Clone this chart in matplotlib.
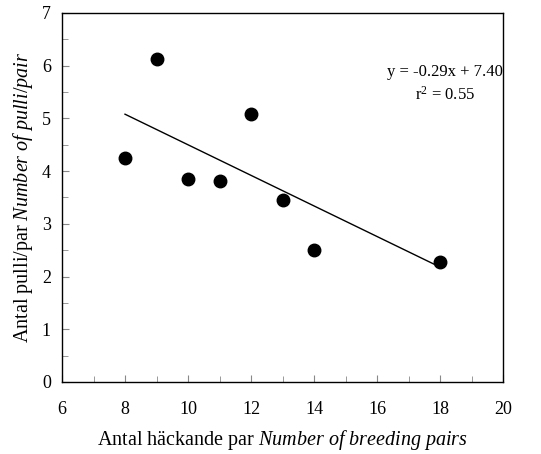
import matplotlib as mpl

mpl.use('Agg')
import matplotlib.pyplot as plt
from matplotlib.ticker import MultipleLocator
import numpy as np

plt.rcParams['font.family'] = ['Liberation Serif', 'DejaVu Serif']
plt.rcParams['mathtext.fontset'] = 'custom'
plt.rcParams['mathtext.rm'] = 'Liberation Serif'
plt.rcParams['mathtext.it'] = 'Liberation Serif:style=italic'

# breeding pairs vs pulli per pair
pairs = [8, 9, 10, 11, 12, 13, 14, 18]
pulli = [4.25, 6.12, 3.85, 3.82, 5.08, 3.46, 2.50, 2.28]

slope = -0.29
intercept = 7.40
fit_x = np.array([min(pairs), max(pairs)])

fig = plt.figure(figsize=(5.41, 4.54), dpi=100)
ax = fig.add_axes([0.1146, 0.1586, 0.8152, 0.8128])

ax.plot(fit_x, slope * fit_x + intercept, color='black', linewidth=1)
ax.plot(pairs, pulli, 'o', color='black', markersize=9)

ax.set_xlim(6, 20)
ax.set_ylim(0, 7)
ax.xaxis.set_major_locator(MultipleLocator(2))
ax.xaxis.set_minor_locator(MultipleLocator(1))
ax.yaxis.set_major_locator(MultipleLocator(1))
ax.yaxis.set_minor_locator(MultipleLocator(0.5))
ax.tick_params(which='both', direction='in', color='#888888', labelsize=13)
ax.tick_params(which='major', length=5)
ax.tick_params(which='minor', length=4)
ax.tick_params(axis='x', pad=14)
ax.tick_params(axis='y', pad=8)
for s in ax.spines.values():
    s.set_linewidth(1)

ax.text(18.16, 5.88, "y = -0.29x + 7.40", ha='center', va='center', fontsize=12)
ax.text(18.16, 5.44, r"r$^2$ = 0.55", ha='center', va='center', fontsize=12)

ax.set_xlabel(r"Antal häckande par $\mathit{Number\ of\ breeding\ pairs}$",
              fontsize=14.5, labelpad=7)
ax.set_ylabel(r"Antal pulli/par $\mathit{Number\ of\ pulli/pair}$",
              fontsize=14.5, labelpad=5)

fig.savefig('out.png', dpi=100)
